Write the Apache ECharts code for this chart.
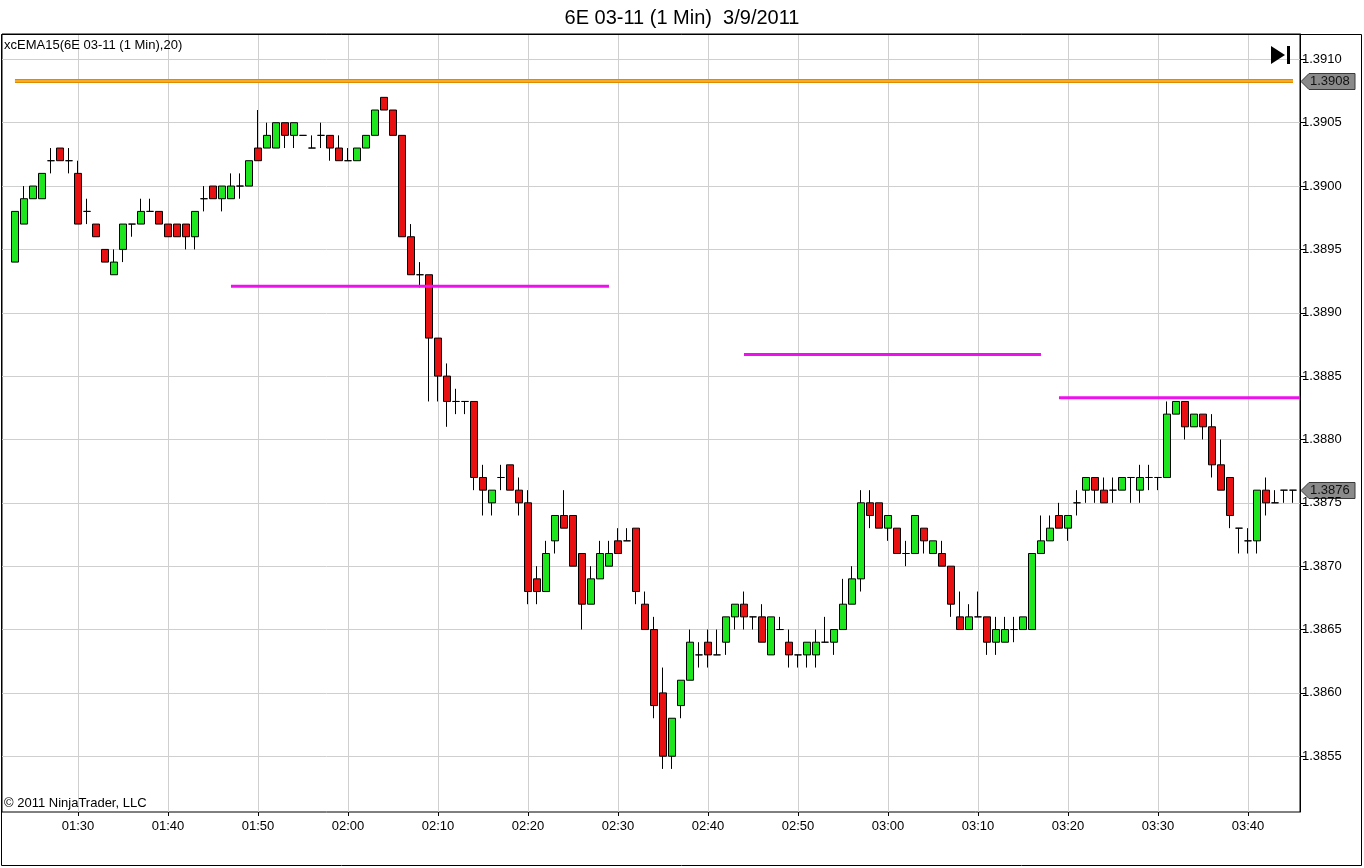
<!DOCTYPE html>
<html>
<head>
<meta charset="utf-8">
<title>6E 03-11 (1 Min)  3/9/2011</title>
<script src="https://cdn.jsdelivr.net/npm/echarts@6.0.0/dist/echarts.min.js"></script>
<style>
  html, body { margin: 0; padding: 0; background: #fff; }
  #container { width: 1364px; height: 868px; }
</style>
</head>
<body>
<div id="container"></div>
<script>
// 1-minute bars, first bar at 01:23
var firstBar = '01:23';

var opens = [
  1.3894, 1.3897, 1.3899, 1.3899, 1.3902, 1.3903, 1.3902, 1.3901, 1.3898, 1.3897,
  1.3895, 1.3893, 1.3895, 1.3897, 1.3897, 1.3898, 1.3898, 1.3897, 1.3897, 1.3897,
  1.3896, 1.3899, 1.3900, 1.3899, 1.3899, 1.3900, 1.3900, 1.3903, 1.3903, 1.3903,
  1.3905, 1.3904, 1.3904, 1.3903, 1.3904, 1.3904, 1.3903, 1.3902, 1.3902, 1.3903,
  1.3904, 1.3907, 1.3906, 1.3904, 1.3896, 1.3893, 1.3893, 1.3888, 1.3885, 1.3883,
  1.3883, 1.3883, 1.3877, 1.3875, 1.3877, 1.3878, 1.3876, 1.3875, 1.3869, 1.3868,
  1.3872, 1.3874, 1.3874, 1.3871, 1.3867, 1.3869, 1.3870, 1.3872, 1.3872, 1.3873,
  1.3867, 1.3865, 1.3860, 1.3855, 1.3859, 1.3861, 1.3863, 1.3864, 1.3863, 1.3864,
  1.3866, 1.3867, 1.3866, 1.3866, 1.3863, 1.3865, 1.3864, 1.3863, 1.3863, 1.3863,
  1.3864, 1.3864, 1.3865, 1.3867, 1.3869, 1.3875, 1.3875, 1.3873, 1.3873, 1.3871,
  1.3871, 1.3873, 1.3871, 1.3871, 1.3870, 1.3866, 1.3865, 1.3866, 1.3866, 1.3864,
  1.3864, 1.3865, 1.3865, 1.3865, 1.3871, 1.3872, 1.3874, 1.3873, 1.3875, 1.3876,
  1.3877, 1.3876, 1.3876, 1.3876, 1.3877, 1.3876, 1.3877, 1.3877, 1.3877, 1.3882,
  1.3883, 1.3881, 1.3882, 1.3881, 1.3878, 1.3877, 1.3873, 1.3872, 1.3872, 1.3876,
  1.3875, 1.3876, 1.3876
];
var closes = [
  1.3898, 1.3899, 1.3900, 1.3901, 1.3902, 1.3902, 1.3902, 1.3897, 1.3898, 1.3896,
  1.3894, 1.3894, 1.3897, 1.3897, 1.3898, 1.3898, 1.3897, 1.3896, 1.3896, 1.3896,
  1.3898, 1.3899, 1.3899, 1.3900, 1.3900, 1.3900, 1.3902, 1.3902, 1.3904, 1.3905,
  1.3904, 1.3905, 1.3904, 1.3903, 1.3904, 1.3903, 1.3902, 1.3902, 1.3903, 1.3904,
  1.3906, 1.3906, 1.3904, 1.3896, 1.3893, 1.3893, 1.3888, 1.3885, 1.3883, 1.3883,
  1.3883, 1.3877, 1.3876, 1.3876, 1.3877, 1.3876, 1.3875, 1.3868, 1.3868, 1.3871,
  1.3874, 1.3873, 1.3870, 1.3867, 1.3869, 1.3871, 1.3871, 1.3871, 1.3872, 1.3868,
  1.3865, 1.3859, 1.3855, 1.3858, 1.3861, 1.3864, 1.3863, 1.3863, 1.3863, 1.3866,
  1.3867, 1.3866, 1.3866, 1.3864, 1.3866, 1.3865, 1.3863, 1.3863, 1.3864, 1.3864,
  1.3864, 1.3865, 1.3867, 1.3869, 1.3875, 1.3874, 1.3873, 1.3874, 1.3871, 1.3871,
  1.3874, 1.3872, 1.3872, 1.3870, 1.3867, 1.3865, 1.3866, 1.3866, 1.3864, 1.3865,
  1.3865, 1.3865, 1.3866, 1.3871, 1.3872, 1.3873, 1.3873, 1.3874, 1.3875, 1.3877,
  1.3876, 1.3875, 1.3876, 1.3877, 1.3877, 1.3877, 1.3877, 1.3877, 1.3882, 1.3883,
  1.3881, 1.3882, 1.3881, 1.3878, 1.3876, 1.3874, 1.3873, 1.3872, 1.3876, 1.3875,
  1.3875, 1.3876, 1.3876
];
var lows = [
  1.3894, 1.3897, 1.3899, 1.3899, 1.3901, 1.3902, 1.3901, 1.3897, 1.3897, 1.3896,
  1.3894, 1.3893, 1.3894, 1.3896, 1.3897, 1.3898, 1.3897, 1.3896, 1.3896, 1.3895,
  1.3895, 1.3898, 1.3899, 1.3898, 1.3899, 1.3899, 1.3900, 1.3902, 1.3903, 1.3903,
  1.3903, 1.3903, 1.3904, 1.3903, 1.3903, 1.3902, 1.3902, 1.3902, 1.3902, 1.3903,
  1.3904, 1.3906, 1.3904, 1.3896, 1.3893, 1.3892, 1.3883, 1.3883, 1.3881, 1.3882,
  1.3882, 1.3876, 1.3874, 1.3874, 1.3876, 1.3876, 1.3874, 1.3867, 1.3867, 1.3868,
  1.3871, 1.3873, 1.3870, 1.3865, 1.3867, 1.3869, 1.3870, 1.3871, 1.3872, 1.3867,
  1.3865, 1.3858, 1.3854, 1.3854, 1.3858, 1.3861, 1.3862, 1.3862, 1.3863, 1.3863,
  1.3865, 1.3865, 1.3865, 1.3864, 1.3863, 1.3865, 1.3862, 1.3862, 1.3862, 1.3862,
  1.3864, 1.3863, 1.3865, 1.3867, 1.3868, 1.3873, 1.3873, 1.3872, 1.3871, 1.3870,
  1.3871, 1.3871, 1.3871, 1.3870, 1.3866, 1.3865, 1.3865, 1.3866, 1.3863, 1.3863,
  1.3864, 1.3864, 1.3865, 1.3865, 1.3871, 1.3872, 1.3873, 1.3872, 1.3874, 1.3875,
  1.3875, 1.3875, 1.3875, 1.3876, 1.3875, 1.3875, 1.3876, 1.3876, 1.3877, 1.3882,
  1.3880, 1.3881, 1.3880, 1.3877, 1.3876, 1.3873, 1.3871, 1.3871, 1.3871, 1.3874,
  1.3875, 1.3875, 1.3875
];
var highs = [
  1.3898, 1.3900, 1.3900, 1.3901, 1.3903, 1.3903, 1.3903, 1.3902, 1.3899, 1.3897,
  1.3895, 1.3895, 1.3897, 1.3897, 1.3899, 1.3899, 1.3898, 1.3897, 1.3897, 1.3897,
  1.3898, 1.3900, 1.3900, 1.3900, 1.3901, 1.3901, 1.3902, 1.3906, 1.3905, 1.3905,
  1.3905, 1.3905, 1.3904, 1.3904, 1.3905, 1.3904, 1.3904, 1.3903, 1.3903, 1.3904,
  1.3906, 1.3907, 1.3906, 1.3904, 1.3897, 1.3894, 1.3893, 1.3888, 1.3886, 1.3884,
  1.3883, 1.3883, 1.3878, 1.3876, 1.3878, 1.3878, 1.3877, 1.3876, 1.3870, 1.3872,
  1.3874, 1.3876, 1.3874, 1.3871, 1.3870, 1.3872, 1.3872, 1.3873, 1.3873, 1.3873,
  1.3868, 1.3866, 1.3862, 1.3858, 1.3861, 1.3865, 1.3864, 1.3865, 1.3865, 1.3866,
  1.3867, 1.3868, 1.3866, 1.3867, 1.3866, 1.3866, 1.3865, 1.3863, 1.3864, 1.3865,
  1.3866, 1.3865, 1.3869, 1.3870, 1.3876, 1.3876, 1.3875, 1.3874, 1.3873, 1.3872,
  1.3874, 1.3873, 1.3872, 1.3872, 1.3870, 1.3868, 1.3867, 1.3868, 1.3866, 1.3866,
  1.3866, 1.3866, 1.3866, 1.3871, 1.3874, 1.3874, 1.3875, 1.3874, 1.3876, 1.3877,
  1.3877, 1.3877, 1.3877, 1.3877, 1.3877, 1.3878, 1.3878, 1.3877, 1.3883, 1.3883,
  1.3883, 1.3882, 1.3882, 1.3882, 1.3880, 1.3877, 1.3873, 1.3873, 1.3876, 1.3877,
  1.3876, 1.3876, 1.3876
];

// indicator and drawn levels: [price, from, to]
var emaLevel = [1.39083, '01:23', '03:45'];
var magentaLevels = [
  [1.38921, '01:47', '02:29'],
  [1.38867, '02:44', '03:17'],
  [1.38833, '03:19', null]
];
var lastPrice = 1.3876;

var timeTicks = ['01:30', '01:40', '01:50', '02:00', '02:10', '02:20', '02:30',
  '02:40', '02:50', '03:00', '03:10', '03:20', '03:30', '03:40'];
var priceTicks = [1.3855, 1.3860, 1.3865, 1.3870, 1.3875, 1.3880, 1.3885,
  1.3890, 1.3895, 1.3900, 1.3905, 1.3910];

function toMin(s) {
  var p = s.split(':');
  return +p[0] * 60 + +p[1];
}
function toLabel(m) {
  var h = Math.floor(m / 60), mm = Math.round(m % 60);
  return (h < 10 ? '0' : '') + h + ':' + (mm < 10 ? '0' : '') + mm;
}

var t0 = toMin(firstBar);
var candles = opens.map(function (o, i) {
  return [t0 + i, o, closes[i], lows[i], highs[i]];
});
var tLast = t0 + opens.length - 1;
var xMin = t0 - 1.44;
var xMax = tLast + 0.78;

var font = '"Liberation Sans", Arial, sans-serif';

var dom = document.getElementById('container');
var myChart = echarts.init(dom, null, { renderer: 'canvas' });

var levelSeries = magentaLevels.map(function (l) {
  var to = l[2] ? toMin(l[2]) : xMax;
  return {
    type: 'line', silent: true, symbol: 'none', z: 5,
    data: [[toMin(l[1]), l[0]], [to, l[0]]],
    lineStyle: { color: '#ee11ee', width: 3 }
  };
});

var option = {
  animation: false,
  backgroundColor: '#fff',
  title: {
    text: '6E 03-11 (1 Min)  3/9/2011',
    left: 'center', top: 3,
    textStyle: { fontSize: 20, fontWeight: 'normal', color: '#000', fontFamily: font }
  },
  grid: {
    left: 2, top: 34, right: 64, bottom: 56,
    show: true, borderColor: '#000', borderWidth: 1
  },
  xAxis: {
    type: 'value', min: xMin, max: xMax,
    axisLine: { show: false },
    axisTick: { show: true, length: 4, lineStyle: { color: '#000' },
      customValues: timeTicks.map(toMin) },
    axisLabel: { color: '#000', fontSize: 13, fontFamily: font, margin: 8,
      customValues: timeTicks.map(toMin), formatter: toLabel },
    splitLine: { show: true, lineStyle: { color: '#cfcfcf', width: 1 } }
  },
  yAxis: {
    type: 'value', position: 'right', min: 1.38506, max: 1.39120, scale: true,
    axisLine: { show: true, lineStyle: { color: '#000' } },
    axisTick: { show: true, length: 6, lineStyle: { color: '#000' },
      customValues: priceTicks },
    axisLabel: { color: '#000', fontSize: 13, fontFamily: font, margin: 2,
      customValues: priceTicks,
      formatter: function (v) { return v.toFixed(4); } },
    splitLine: { show: true, lineStyle: { color: '#cfcfcf', width: 1 } }
  },
  series: [
    {
      type: 'candlestick', name: '6E 03-11', z: 3,
      data: candles,
      barWidth: 7,
      itemStyle: {
        color: '#1ee61e', color0: '#e81010',
        borderColor: '#000', borderColor0: '#000', borderWidth: 1
      }
    },
    {
      type: 'line', silent: true, symbol: 'none', z: 4,
      data: [[toMin(emaLevel[1]), emaLevel[0]], [toMin(emaLevel[2]), emaLevel[0]]],
      lineStyle: { color: '#e08a00', width: 4 }
    },
    {
      type: 'line', silent: true, symbol: 'none', z: 4,
      data: [[toMin(emaLevel[1]), emaLevel[0]], [toMin(emaLevel[2]), emaLevel[0]]],
      lineStyle: { color: '#ffb52e', width: 1.5 }
    }
  ].concat(levelSeries)
};

myChart.setOption(option);

// decorations: outer frame, labels, price tags, scroll button
function priceTag(price) {
  var p = myChart.convertToPixel({ gridIndex: 0 }, [xMax, price]);
  return {
    type: 'group', x: p[0] + 1, y: Math.round(p[1]) + 0.5, z: 10,
    children: [
      { type: 'polygon',
        shape: { points: [[0, 0], [8, -8], [54, -8], [54, 8], [8, 8]] },
        style: { fill: '#8a8a8a', stroke: '#3a3a3a', lineWidth: 1 } },
      { type: 'text',
        style: { x: 9, y: 0, text: price.toFixed(4), fill: '#111',
          font: '13px ' + font, verticalAlign: 'middle' } }
    ]
  };
}

myChart.setOption({
  graphic: [
    { type: 'rect', shape: { x: 1.5, y: 34.5, width: 1360, height: 831 },
      style: { fill: 'none', stroke: '#000', lineWidth: 1 }, silent: true },
    { type: 'text', left: 4, top: 39,
      style: { text: 'xcEMA15(6E 03-11 (1 Min),20)', fill: '#000', font: '13px ' + font } },
    { type: 'text', left: 4, top: 797,
      style: { text: '\u00a9 2011 NinjaTrader, LLC', fill: '#000', font: '13px ' + font } },
    priceTag(emaLevel[0]),
    priceTag(lastPrice),
    { type: 'polygon', shape: { points: [[1271, 46], [1285, 55], [1271, 64]] },
      style: { fill: '#000' } },
    { type: 'rect', shape: { x: 1287, y: 46, width: 3, height: 18 },
      style: { fill: '#000' } }
  ]
});

window.addEventListener('resize', myChart.resize);
</script>
</body>
</html>
